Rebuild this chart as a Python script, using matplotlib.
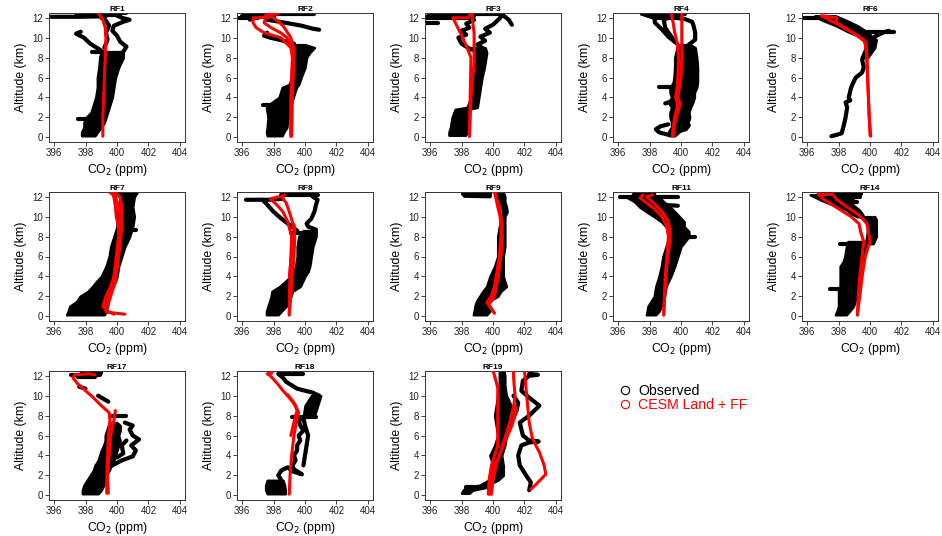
import matplotlib
matplotlib.use("Agg")
import matplotlib.pyplot as plt
from matplotlib.lines import Line2D

plt.rcParams['font.family'] = ['Liberation Sans', 'DejaVu Sans']

# ---------------- data (CO2 ppm, altitude km) ----------------
# RF1
rf1_band_alt = [0.15, 0.5, 1.0, 1.5, 2.0, 2.5, 3.0, 4.0, 5.0, 6.0, 7.0, 8.0, 8.6]
rf1_band_lo = [397.75, 397.75, 397.9, 397.9, 398.05, 398.35, 398.45, 398.65, 398.75, 398.75, 398.85, 398.9, 399.0]
rf1_band_hi = [398.6, 398.75, 399.0, 399.2, 399.3, 399.4, 399.5, 399.7, 399.8, 399.9, 400.1, 400.4, 400.4]
rf1_obs = [
    [(397.5, 1.8), (398.2, 1.8)],
    [(398.4, 8.6), (399.2, 8.6)],
    [(400.4, 8.6), (400.6, 9.1), (400.2, 9.6), (400.0, 10.2), (399.7, 10.7), (399.8, 11.2),
     (400.4, 11.6), (400.8, 11.8), (400.3, 12.0), (399.9, 12.3)],
    [(399.0, 8.7), (398.3, 9.4), (397.9, 10.0), (397.4, 10.4), (397.7, 10.6)],
    [(399.2, 9.0), (399.4, 9.8), (399.3, 10.5), (399.5, 11.2), (399.3, 11.7), (399.0, 12.0)],
    [(395.8, 12.1), (397.5, 12.1), (399.3, 12.15)],
    [(397.8, 12.3), (400.2, 12.3)],
    [(397.4, 12.45), (400.6, 12.45)],
]
rf1_model = [
    [(399.1, 0.1), (399.1, 2), (399.15, 4), (399.2, 6), (399.25, 8), (399.3, 10), (399.25, 11),
     (399.1, 11.8), (398.8, 12.5)],
]

# RF2
rf2_band_alt = [0.15, 0.5, 1.0, 2.0, 3.0, 3.5, 4.0, 5.0, 5.3, 6.0, 7.0, 8.0, 8.5, 9.0, 9.3]
rf2_band_lo = [397.6, 397.55, 397.6, 397.65, 397.55, 397.9, 398.35, 398.55, 399.0, 399.15, 399.25, 399.35, 399.3, 399.45, 399.3]
rf2_band_hi = [398.55, 398.65, 398.85, 398.9, 399.05, 399.15, 399.25, 399.45, 399.6, 399.75, 400.0, 400.1, 400.3, 400.6, 400.0]
rf2_obs = [
    [(397.3, 3.2), (398.0, 3.2)],
    [(399.3, 9.4), (398.6, 9.7), (397.8, 10.0), (397.4, 10.2), (397.6, 10.5)],
    [(397.6, 11.8), (398.4, 11.6), (399.1, 11.4), (399.8, 11.2), (400.5, 10.9), (400.9, 10.8)],
    [(396.5, 11.8), (396.8, 12.2)],
    [(395.8, 12.0), (397.0, 12.0)],
    [(396.0, 12.2), (398.0, 12.2)],
    [(396.8, 12.4), (400.6, 12.4)],
]
rf2_model = [
    [(399.1, 0.1), (399.1, 4), (399.2, 8), (399.1, 9), (398.45, 10), (397.4, 10.5), (396.9, 11),
     (396.7, 11.5), (396.7, 12), (397.7, 12.05)],
    [(399.15, 0.1), (399.2, 4), (399.3, 8), (399.3, 9), (398.85, 10), (398.45, 10.5), (397.85, 11),
     (397.4, 11.5), (397.5, 12), (397.8, 12.3)],
    [(399.1, 0.1), (399.15, 5), (399.25, 9), (399.1, 10), (398.9, 10.5), (398.6, 11.2), (398.1, 11.9),
     (397.6, 12.4)],
    [(397.5, 12.25), (398.3, 12.4)],
]

# RF3
rf3_band_alt = [0.2, 0.5, 1.0, 2.0, 2.8, 3.0, 4.0, 5.0, 6.0, 7.0, 8.0, 8.5, 9.0]
rf3_band_lo = [397.2, 397.2, 397.3, 397.4, 397.6, 398.35, 398.6, 398.7, 398.8, 398.9, 398.9, 398.8, 398.6]
rf3_band_hi = [398.25, 398.35, 398.35, 398.5, 398.4, 399.0, 399.1, 399.2, 399.3, 399.45, 399.55, 399.6, 399.5]
rf3_obs = [
    [(398.6, 8.8), (398.0, 9.4), (397.8, 10.0), (398.3, 10.3), (398.0, 10.7), (398.5, 11.0),
     (398.3, 11.4), (398.8, 11.8)],
    [(399.5, 8.8), (399.0, 9.3), (399.5, 9.7), (399.2, 10.1), (399.8, 10.5), (399.5, 10.9),
     (400.0, 11.3), (400.4, 11.9), (400.6, 12.3), (401.0, 11.8), (401.2, 11.3)],
    [(395.7, 11.5), (396.5, 11.5)],
    [(395.7, 12.0), (398.6, 12.0)],
    [(395.9, 12.2), (398.8, 12.2)],
    [(396.5, 12.4), (400.5, 12.4)],
]
rf3_model = [
    [(398.5, 0.1), (398.55, 4), (398.6, 8.0), (398.4, 8.8), (398.05, 10.1), (397.7, 11.2),
     (397.45, 12.0), (398.4, 12.0), (398.65, 12.5)],
    [(398.5, 0.1), (398.6, 4), (398.7, 6), (398.8, 7.5), (398.8, 9.1), (398.8, 10.5), (398.7, 11.7),
     (398.65, 12.5)],
]

# RF4
rf4_band_alt = [0.15, 0.5, 0.8, 1.0, 1.5, 2.0, 2.5, 3.0, 3.5, 4.0, 4.5, 5.0, 5.5, 6.0, 7.0, 8.0, 9.0, 9.3]
rf4_band_lo = [399.3, 399.2, 399.3, 399.4, 399.4, 399.3, 399.3, 399.4, 399.2, 399.4, 399.3, 399.3, 399.5, 399.55, 399.6, 399.6, 399.75, 399.75]
rf4_band_hi = [399.6, 399.85, 400.1, 400.3, 400.45, 400.55, 400.5, 400.6, 400.75, 400.85, 400.85, 401.0, 401.05, 401.05, 401.05, 401.0, 400.9, 400.6]
rf4_obs = [
    [(399.3, 0.2), (398.6, 0.5), (398.4, 0.8), (398.7, 1.1), (399.2, 1.3)],
    [(399.8, 0.6), (400.3, 0.8), (400.5, 1.2)],
    [(398.6, 5.0), (399.3, 5.0)],
    [(399.0, 3.4), (399.4, 3.6)],
    [(399.75, 9.4), (399.2, 10.1), (398.8, 10.8), (398.35, 11.5), (398.3, 12.0), (397.7, 12.3)],
    [(399.6, 9.6), (399.3, 10.3), (399.0, 11.0), (398.9, 11.8), (399.3, 12.1)],
    [(400.5, 9.3), (400.9, 9.8), (400.9, 10.5), (400.8, 11.2), (400.7, 11.6), (400.2, 11.9), (399.6, 12.0)],
    [(397.5, 12.35), (400.25, 12.35)],
    [(398.4, 12.0), (399.8, 12.0)],
]
rf4_model = [
    [(399.5, 0.1), (399.55, 1), (399.7, 2), (399.95, 3.3), (399.8, 4.0), (399.9, 5), (400.0, 6),
     (400.05, 8), (400.05, 10), (400.05, 11.5), (400.05, 12.5)],
    [(399.45, 0.1), (399.5, 1), (399.6, 2), (399.8, 3.3), (399.65, 4.0), (399.75, 5), (399.8, 6),
     (399.85, 8), (399.75, 9.5), (399.6, 10.5), (399.5, 11.5), (399.35, 12.5)],
]

# RF6
rf6_band_alt = [8.0, 9.0, 9.8, 10.0, 10.6, 11.2, 11.8, 12.2]
rf6_band_lo = [399.45, 399.7, 399.6, 399.5, 398.6, 397.85, 396.9, 396.5]
rf6_band_hi = [399.85, 400.3, 400.4, 400.2, 399.8, 399.2, 398.4, 397.8]
rf6_obs = [
    [(397.55, 0.1), (397.9, 0.25), (398.2, 0.4), (398.35, 1.3), (398.45, 2.0), (398.55, 3.0),
     (398.45, 3.5), (398.75, 3.7), (398.65, 4.0), (398.8, 5.0), (399.0, 5.7), (399.1, 6.0),
     (399.5, 6.5), (399.6, 7.0), (399.5, 7.8), (399.6, 8.1), (399.8, 8.4), (400.1, 9.1),
     (400.2, 9.6), (400.3, 10.1), (400.8, 10.5), (401.2, 10.7)],
    [(399.8, 10.6), (401.5, 10.6)],
    [(395.8, 12.0), (397.8, 12.0)],
]
rf6_model = [
    [(400.05, 0.1), (399.95, 2), (399.9, 4), (399.85, 6), (399.8, 8), (399.7, 9.5), (399.6, 9.8),
     (398.9, 10.5), (398.1, 11.2), (397.4, 11.8), (396.9, 12.2)],
    [(400.0, 0.2), (399.9, 4), (399.8, 8), (399.75, 9.5), (399.2, 10.2), (398.5, 10.9), (397.8, 11.6),
     (397.9, 12.0), (397.0, 12.2)],
]

# RF7
rf7_band_alt = [0.15, 0.5, 1.0, 1.5, 2.0, 2.5, 3.0, 3.5, 4.0, 5.0, 6.0, 7.0, 8.0, 9.0, 10.0, 11.0, 12.0, 12.5]
rf7_band_lo = [396.8, 396.9, 397.0, 397.45, 397.65, 398.15, 398.45, 398.7, 399.0, 399.3, 399.5, 399.6, 399.8, 400.0, 400.0, 400.1, 400.2, 399.5]
rf7_band_hi = [399.2, 399.3, 399.4, 399.45, 399.3, 399.4, 399.7, 399.9, 400.0, 400.1, 400.3, 400.5, 400.8, 401.0, 401.1, 401.0, 401.1, 401.3]
rf7_obs = [
    [(400.2, 8.7), (401.2, 8.7)],
]
rf7_model = [
    [(400.5, 0.2), (399.4, 0.4), (399.1, 1.0), (399.3, 2), (399.6, 3), (399.8, 4), (399.95, 6),
     (400.1, 8), (400.15, 9), (400.2, 10), (400.1, 11), (399.9, 12), (399.6, 12.4)],
    [(399.8, 0.2), (399.3, 0.6), (399.3, 1.2), (399.5, 2), (399.8, 3), (399.95, 4), (400.1, 6),
     (400.25, 8), (400.3, 9), (400.3, 10), (400.3, 11), (400.2, 12), (399.9, 12.4)],
    [(399.3, 0.5), (399.4, 1), (399.6, 2), (399.9, 3.5), (400.0, 5), (400.15, 7), (400.1, 9),
     (399.95, 10), (399.9, 11), (399.8, 12), (399.7, 12.4)],
]

# RF8
rf8_band_alt = [0.15, 0.5, 1.0, 2.0, 2.5, 3.0, 4.0, 4.5, 5.0, 6.0, 7.0, 8.0, 8.6]
rf8_band_lo = [397.55, 397.55, 397.65, 397.85, 397.9, 398.4, 399.1, 399.3, 399.4, 399.5, 399.5, 399.6, 399.9]
rf8_band_hi = [398.3, 398.5, 398.8, 399.1, 399.2, 399.7, 400.0, 400.2, 400.3, 400.4, 400.5, 400.7, 400.7]
rf8_obs = [
    [(400.7, 8.7), (400.2, 9.0), (400.1, 9.3), (400.4, 9.8), (400.6, 10.5), (400.7, 11.2),
     (400.8, 11.7), (400.5, 12.0)],
    [(399.1, 8.35), (400.7, 8.35)],
    [(399.5, 8.6), (399.0, 9.2), (398.5, 9.8), (398.0, 10.5), (397.55, 11.3), (397.3, 11.7)],
    [(396.25, 11.7), (397.7, 11.7), (398.6, 11.8)],
    [(398.5, 12.15), (400.8, 12.15)],
    [(399.0, 12.3), (400.5, 12.3)],
]
rf8_model = [
    [(399.0, 0.1), (399.0, 2), (399.05, 4), (399.1, 6), (399.15, 8), (398.9, 9.5), (398.6, 10.5),
     (398.2, 11.2), (397.8, 11.8), (398.3, 12.0)],
    [(399.0, 0.3), (399.1, 2), (399.2, 4), (399.3, 6), (399.35, 8), (399.2, 9.5), (399.0, 10.5),
     (398.8, 11.4), (398.5, 12.0), (398.7, 12.2)],
    [(399.0, 4), (399.2, 7), (399.35, 8.7), (399.3, 9.2)],
]

# RF9
rf9_band_alt = [0.15, 0.5, 1.0, 1.5, 2.0, 2.5, 3.0, 3.5, 4.0, 5.0, 6.0, 7.0, 8.0, 9.0, 10.0, 10.5, 11.0, 11.5, 12.0, 12.3]
rf9_band_lo = [398.75, 398.8, 398.85, 398.95, 399.15, 399.35, 399.6, 399.7, 399.8, 400.1, 400.3, 400.3, 400.3, 400.4, 400.55, 400.6, 400.55, 400.4, 400.3, 400.2]
rf9_band_hi = [399.6, 399.8, 399.6, 399.7, 400.3, 400.5, 400.85, 400.75, 400.65, 400.65, 400.65, 400.75, 400.75, 400.75, 400.75, 400.9, 400.85, 400.75, 400.75, 400.7]
rf9_obs = [
    [(398.1, 12.3), (399.8, 12.3)],
    [(398.2, 12.1), (399.8, 12.05)],
]
rf9_model = [
    [(400.1, 0.3), (400.0, 0.5), (399.7, 1.2), (399.9, 1.5), (400.1, 2), (400.2, 3), (400.35, 4),
     (400.45, 6), (400.5, 8), (400.5, 9), (400.45, 10), (400.3, 11), (400.1, 12.5)],
    [(400.0, 0.5), (399.8, 1.0), (399.6, 1.4), (399.9, 2), (400.1, 3), (400.3, 4), (400.5, 6),
     (400.6, 8), (400.55, 9.5), (400.4, 11), (400.1, 12.5)],
    [(400.0, 2), (400.2, 4), (400.4, 6), (400.5, 8)],
]

# RF11
rf11_band_alt = [0.15, 0.5, 1.0, 1.5, 2.0, 3.0, 4.0, 5.0, 6.0, 7.0, 8.0, 8.5, 9.0, 9.5, 10.0, 10.5, 11.0, 11.5, 12.0]
rf11_band_lo = [397.8, 397.85, 397.9, 398.1, 398.3, 398.4, 398.6, 398.75, 398.85, 399.05, 399.25, 399.25, 399.05, 398.75, 398.3, 397.8, 397.35, 397.05, 396.5]
rf11_band_hi = [398.4, 398.6, 398.75, 398.85, 398.95, 399.05, 399.35, 399.6, 399.8, 400.0, 400.5, 400.5, 400.2, 400.2, 399.9, 399.6, 399.3, 398.9, 398.6]
rf11_obs = [
    [(399.5, 8.0), (400.9, 8.0)],
    [(398.7, 11.2), (399.8, 11.1)],
    [(396.1, 12.0), (399.8, 12.0)],
    [(397.0, 12.2), (398.3, 12.3)],
]
rf11_model = [
    [(398.9, 0.1), (398.95, 2), (399.0, 4), (399.1, 6), (399.2, 8), (399.1, 9), (398.8, 10),
     (398.3, 10.8), (397.8, 11.4), (397.4, 11.9), (397.6, 12.2)],
    [(398.9, 0.3), (399.0, 3), (399.1, 5), (399.25, 7), (399.3, 8.5), (399.2, 9.5), (398.9, 10.3),
     (398.5, 11), (398.1, 11.6), (397.8, 12.0), (398.2, 12.2)],
]

# RF14
rf14_band_alt = [0.15, 0.5, 1.0, 2.0, 2.7, 3.0, 4.0, 5.0, 5.5, 6.0, 7.0, 7.5]
rf14_band_lo = [397.8, 397.9, 398.0, 398.0, 398.0, 398.1, 398.1, 398.1, 398.3, 398.4, 398.5, 398.6]
rf14_band_hi = [398.5, 398.7, 398.95, 399.15, 399.2, 399.25, 399.25, 399.35, 399.45, 399.6, 399.7, 399.8]
rf14_band2_alt = [7.3, 8.0, 9.0, 9.7, 10.0]
rf14_band2_lo = [399.7, 399.8, 399.85, 399.7, 399.35]
rf14_band2_hi = [400.2, 400.4, 400.4, 400.4, 400.3]
rf14_band3_alt = [10.0, 10.3, 10.7, 11.2, 11.7, 12.2]
rf14_band3_lo = [399.2, 398.8, 398.5, 397.6, 396.85, 396.2]
rf14_band3_hi = [399.6, 399.5, 399.3, 398.9, 398.9, 399.0]
rf14_obs = [
    [(397.45, 2.7), (398.3, 2.7)],
    [(398.1, 7.3), (399.0, 7.3)],
    [(396.9, 12.3), (399.4, 12.3)],
    [(397.5, 12.0), (399.35, 12.0)],
    [(398.0, 11.5), (399.2, 11.5)],
]
rf14_model = [
    [(399.2, 0.1), (399.25, 2), (399.35, 4), (399.5, 6), (399.6, 7.5), (399.4, 8.5), (399.3, 9.3),
     (398.8, 10.0), (398.2, 10.6), (397.6, 11.2), (397.0, 11.8), (396.7, 12.3)],
    [(399.2, 0.2), (399.35, 2), (399.5, 4), (399.7, 6), (400.0, 7.5), (399.9, 8.5), (399.8, 9.3),
     (399.4, 10.0), (399.0, 10.5), (398.5, 11.0), (397.9, 11.7), (397.6, 12.3)],
    [(396.7, 12.3), (397.6, 12.3)],
]

# RF17
rf17_band_alt = [0.15, 0.5, 1.0, 1.5, 2.0, 2.5, 3.0, 3.5, 4.0, 4.5, 5.0, 5.5, 6.0, 6.5, 7.0, 7.3]
rf17_band_lo = [397.8, 397.8, 397.9, 398.1, 398.3, 398.5, 398.6, 398.8, 398.9, 399.0, 399.15, 399.25, 399.25, 399.35, 399.45, 399.55]
rf17_band_hi = [398.8, 399.0, 399.15, 399.3, 399.3, 399.5, 399.65, 399.8, 399.9, 400.0, 400.1, 400.2, 400.1, 400.2, 400.2, 400.0]
rf17_obs = [
    [(399.7, 3.0), (400.3, 3.5), (401.0, 3.9), (401.2, 4.5), (400.9, 5.0), (401.4, 5.6), (401.0, 6.0),
     (400.8, 6.6), (401.0, 7.0), (400.5, 7.3)],
    [(400.0, 3.8), (400.4, 4.2), (400.3, 5.0), (400.6, 5.5)],
    [(399.6, 7.95), (400.6, 7.95)],
    [(398.8, 10.0), (399.45, 9.4)],
    [(397.6, 10.9), (398.0, 10.7)],
    [(397.1, 12.1), (398.9, 12.1)],
    [(397.5, 11.9), (398.6, 11.9)],
    [(397.8, 12.25), (399.0, 12.25)],
]
rf17_model = [
    [(399.45, 0.2), (399.4, 2), (399.5, 4), (399.6, 6), (399.8, 7.5), (399.9, 8.5)],
    [(399.35, 0.2), (399.35, 2), (399.4, 4), (399.45, 6), (399.55, 7.5), (399.5, 8.3), (399.0, 9.0),
     (398.5, 9.8), (398.0, 10.5), (397.5, 11.2), (397.2, 11.8), (397.3, 12.1), (398.2, 12.2), (398.6, 12.1)],
]

# RF18
rf18_band_alt = [0.15, 0.5, 1.0, 1.5]
rf18_band_lo = [397.6, 397.5, 397.5, 397.6]
rf18_band_hi = [398.75, 398.75, 398.7, 398.6]
rf18_band2_alt = [8.0, 9.0, 10.0]
rf18_band2_lo = [399.9, 400.0, 400.4]
rf18_band2_hi = [400.6, 400.8, 401.0]
rf18_obs = [
    [(398.5, 1.5), (398.3, 2.0), (398.5, 2.5), (398.9, 2.8), (399.2, 2.4), (399.8, 2.1), (399.3, 2.6),
     (399.2, 3.0), (399.4, 3.5), (399.3, 4.0), (399.5, 4.5), (399.5, 5.0), (399.7, 5.5), (399.6, 6.0),
     (399.9, 6.5), (399.7, 7.0), (399.6, 7.5), (399.9, 7.8), (400.4, 8.0), (400.6, 8.5), (400.7, 9.0),
     (400.6, 9.5), (400.9, 10.0), (400.5, 10.3), (400.0, 10.5), (399.5, 10.7), (399.2, 11.0),
     (398.8, 11.4), (398.6, 11.8), (398.3, 12.2)],
    [(399.9, 3.0), (400.0, 4.0), (400.1, 5.0), (400.2, 6.0), (400.0, 7.0), (399.9, 7.8)],
    [(399.2, 7.85), (400.7, 7.85)],
    [(398.4, 12.2), (399.9, 12.2)],
]
rf18_model = [
    [(399.0, 0.1), (399.05, 2), (399.15, 4), (399.3, 6), (399.5, 7.8), (399.6, 8.3), (399.4, 9.0),
     (399.0, 9.8), (398.6, 10.5), (398.2, 11.3), (397.8, 12.0), (397.6, 12.2), (397.9, 12.3)],
    [(399.1, 6), (399.4, 8), (399.5, 8.5), (399.3, 9.3), (398.9, 10.1)],
]

# RF19
rf19_band_alt = [0.2, 0.5, 0.8, 1.0, 1.5, 2.0, 3.0, 4.0, 5.0, 6.0, 7.0, 8.0, 9.0, 10.0, 11.0, 12.0, 12.5]
rf19_band_lo = [398.0, 398.1, 398.3, 399.15, 399.7, 399.8, 400.0, 399.8, 400.1, 400.3, 400.2, 400.1, 400.2, 400.3, 400.4, 400.4, 400.4]
rf19_band_hi = [398.5, 398.7, 399.6, 399.6, 400.3, 400.65, 400.65, 400.55, 400.75, 400.85, 401.05, 400.95, 401.15, 400.85, 400.75, 400.75, 400.7]
rf19_obs = [
    [(398.3, 0.8), (399.9, 0.8)],
    [(402.3, 0.5), (402.4, 1.3), (402.1, 2.0), (401.7, 3.0), (401.6, 4.0), (401.8, 5.0), (402.3, 5.3),
     (402.9, 5.4), (402.3, 5.5), (401.9, 6.0), (401.7, 7.3), (402.3, 8.0), (402.95, 9.0), (402.3, 9.8),
     (401.8, 10.5), (401.9, 11.5), (402.3, 12.0), (402.85, 12.1), (402.3, 12.2)],
    [(401.2, 7.5), (401.5, 8.5), (401.6, 9.3), (401.3, 10.0)],
]
rf19_model = [
    [(402.4, 0.6), (402.8, 1.2), (403.35, 2.1), (403.25, 3.0), (402.95, 4.3), (402.5, 5.7), (402.3, 7.3),
     (402.2, 9.0), (402.1, 10.7), (402.0, 12.5)],
    [(399.9, 0.1), (400.0, 1.5), (400.2, 3), (400.5, 4.5), (400.8, 6), (401.1, 7.5), (401.3, 8.8),
     (401.4, 10), (401.35, 11), (401.3, 12), (401.3, 12.5)],
    [(399.8, 0.1), (399.9, 1.5), (400.1, 3.0), (400.4, 4.0), (400.8, 5.5), (401.2, 7.0), (401.5, 8.5),
     (401.4, 9.0)],
    [(399.7, 0.1), (399.75, 1.5), (399.9, 3), (400.1, 4), (400.3, 5), (400.3, 6), (400.3, 7.4),
     (400.3, 9), (400.3, 10.8), (400.1, 12), (400.0, 12.5)],
]

flights = ["RF1", "RF2", "RF3", "RF4", "RF6", "RF7", "RF8", "RF9", "RF11", "RF14", "RF17", "RF18", "RF19"]
bands = [
    [(rf1_band_alt, rf1_band_lo, rf1_band_hi)],
    [(rf2_band_alt, rf2_band_lo, rf2_band_hi)],
    [(rf3_band_alt, rf3_band_lo, rf3_band_hi)],
    [(rf4_band_alt, rf4_band_lo, rf4_band_hi)],
    [(rf6_band_alt, rf6_band_lo, rf6_band_hi)],
    [(rf7_band_alt, rf7_band_lo, rf7_band_hi)],
    [(rf8_band_alt, rf8_band_lo, rf8_band_hi)],
    [(rf9_band_alt, rf9_band_lo, rf9_band_hi)],
    [(rf11_band_alt, rf11_band_lo, rf11_band_hi)],
    [(rf14_band_alt, rf14_band_lo, rf14_band_hi), (rf14_band2_alt, rf14_band2_lo, rf14_band2_hi),
     (rf14_band3_alt, rf14_band3_lo, rf14_band3_hi)],
    [(rf17_band_alt, rf17_band_lo, rf17_band_hi)],
    [(rf18_band_alt, rf18_band_lo, rf18_band_hi), (rf18_band2_alt, rf18_band2_lo, rf18_band2_hi)],
    [(rf19_band_alt, rf19_band_lo, rf19_band_hi)],
]
obs_traces = [rf1_obs, rf2_obs, rf3_obs, rf4_obs, rf6_obs, rf7_obs, rf8_obs, rf9_obs, rf11_obs,
              rf14_obs, rf17_obs, rf18_obs, rf19_obs]
model_traces = [rf1_model, rf2_model, rf3_model, rf4_model, rf6_model, rf7_model, rf8_model, rf9_model,
                rf11_model, rf14_model, rf17_model, rf18_model, rf19_model]

x_ticks = [396, 398, 400, 402, 404]
y_ticks = [0, 2, 4, 6, 8, 10, 12]

# ---------------- figure ----------------
W, H = 942, 536
fig = plt.figure(figsize=(W / 100, H / 100), dpi=100)

col_left = [49, 237, 425, 613, 802]
row_top = [13, 192, 371]
box_w, box_h = 136, 129

for i, name in enumerate(flights):
    r, c = divmod(i, 5)
    ax = fig.add_axes([col_left[c] / W, 1 - (row_top[r] + box_h) / H, box_w / W, box_h / H])

    for alt, lo, hi in bands[i]:
        ax.fill_betweenx(alt, lo, hi, color="black", lw=1.8, zorder=2)
    for tr in obs_traces[i]:
        xs = [p[0] for p in tr]
        ys = [p[1] for p in tr]
        ax.plot(xs, ys, color="black", lw=3.0, solid_capstyle="round", zorder=2)
    for tr in model_traces[i]:
        xs = [p[0] for p in tr]
        ys = [p[1] for p in tr]
        ax.plot(xs, ys, color="#ff0000", lw=2.2, solid_capstyle="round", zorder=3)

    ax.set_xlim(395.68, 404.32)
    ax.set_ylim(-0.48, 12.48)
    ax.set_xticks(x_ticks)
    ax.set_yticks(y_ticks)
    ax.tick_params(direction="out", length=3, width=0.6, labelsize=7, pad=1.5, colors="#222222")
    for s in ax.spines.values():
        s.set_linewidth(0.7)
        s.set_color("#333333")
    ax.set_xlabel("CO$_2$ (ppm)", fontsize=8.8, labelpad=2.5)
    ax.set_ylabel("Altitude (km)", fontsize=8.8, labelpad=3.5)
    ax.set_title(name, fontsize=6, fontweight="bold", pad=0.3)

handles = [
    Line2D([], [], ls="none", marker="o", mfc="none", mec="black", ms=6, mew=0.8),
    Line2D([], [], ls="none", marker="o", mfc="none", mec="#ff0000", ms=6, mew=0.8),
]
fig.legend(handles, ["Observed", "CESM Land + FF"], loc="upper left",
           bbox_to_anchor=(614 / W, 1 - 378 / H), frameon=False, fontsize=10.2,
           handlelength=0.8, handletextpad=0.5, labelspacing=0.05,
           labelcolor=["black", "#ff0000"], borderaxespad=0)

fig.savefig("out.png", dpi=100)
